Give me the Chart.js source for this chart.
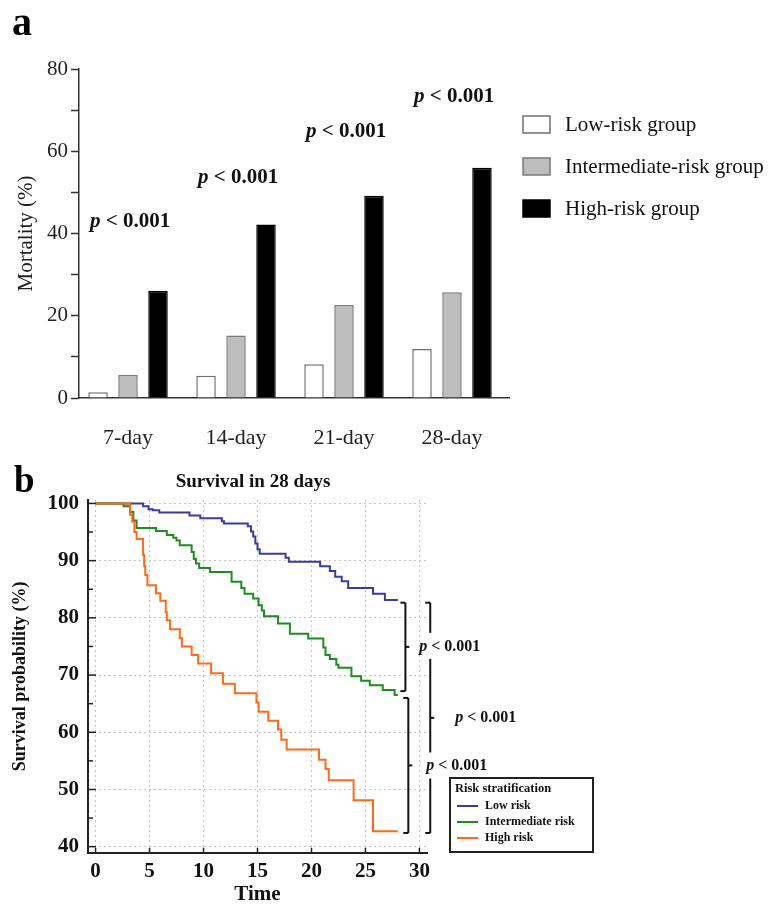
<!DOCTYPE html>
<html>
<head>
<meta charset="utf-8">
<title>Mortality and survival by risk group</title>
<script src="https://cdn.jsdelivr.net/npm/chart.js@4.4.1/dist/chart.umd.min.js"></script>
<style>
  body { margin: 0; background: #fff; }
  canvas { position: absolute; left: 0; }
</style>
</head>
<body>
<canvas id="chartMortality" width="772" height="455" style="top:0"></canvas>
<canvas id="chartSurvival" width="772" height="457" style="top:455px"></canvas>
<script>
// ---- panel a : mortality (%) per follow-up period ----
const periods = ['7-day', '14-day', '21-day', '28-day'];
const groupNames = ['Low-risk group', 'Intermediate-risk group', 'High-risk group'];
const lowMortality = [1.4, 5.4, 8.2, 11.9];
const intermediateMortality = [5.6, 15.2, 22.6, 25.7];
const highMortality = [26.1, 42.2, 49.2, 56.0];
const mortalityTicks = [0, 20, 40, 60, 80];
const pLabel = 'p < 0.001';

// ---- panel b : Kaplan-Meier survival in 28 days ----
const riskNames = ['Low risk', 'Intermediate risk', 'High risk'];
const lowTime = [0, 4.4, 4.9, 5.3, 5.9, 8.7, 9.7, 11.7, 11.9, 14.1, 14.4, 14.6, 14.8, 15.0, 15.2, 17.6, 17.9, 20.8, 21.7, 22.2, 22.8, 23.4, 25.7, 26.8, 28.0];
const lowSurv = [100, 99.5, 99.0, 98.8, 98.4, 97.9, 97.4, 96.9, 96.5, 96.0, 95.1, 94.2, 93.0, 92.0, 91.2, 90.5, 89.8, 89.0, 88.2, 87.2, 86.4, 85.2, 84.2, 83.1, 83.1];
const midTime = [0, 2.6, 3.2, 3.5, 3.8, 5.6, 6.6, 7.2, 7.5, 7.8, 8.9, 9.1, 9.3, 9.6, 10.6, 12.6, 13.5, 13.8, 14.6, 15.1, 15.4, 15.6, 16.9, 18.0, 19.7, 21.1, 21.3, 21.7, 22.3, 22.5, 23.7, 24.6, 25.4, 26.6, 27.7, 28.0];
const midSurv = [100, 99.5, 98.5, 97.0, 95.7, 95.2, 94.5, 94.0, 93.5, 92.7, 91.5, 90.3, 89.5, 88.7, 88.0, 86.3, 85.2, 84.2, 83.4, 82.2, 81.3, 80.3, 79.0, 77.2, 76.4, 74.8, 73.5, 72.8, 71.8, 71.3, 69.8, 69.0, 68.2, 67.4, 66.5, 66.5];
const highTime = [0, 3.2, 3.4, 3.6, 3.8, 4.4, 4.5, 4.6, 4.8, 5.6, 6.0, 6.5, 6.6, 6.9, 7.8, 8.0, 8.9, 9.5, 10.7, 11.8, 12.9, 14.9, 15.1, 16.0, 16.9, 17.2, 17.7, 20.7, 21.3, 21.6, 23.9, 25.7, 28.0];
const highSurv = [100, 98.0, 96.8, 95.0, 93.8, 91.0, 89.0, 87.5, 85.7, 84.3, 83.0, 81.0, 79.6, 78.0, 76.5, 75.0, 73.5, 72.0, 70.3, 68.5, 66.8, 65.2, 63.6, 62.0, 60.5, 58.7, 57.0, 55.2, 53.6, 51.6, 48.1, 42.7, 42.7];
const timeTicks = [0, 5, 10, 15, 20, 25, 30];
const survivalTicks = [40, 50, 60, 70, 80, 90, 100];

const SERIF = "'Liberation Serif', 'Times New Roman', serif";

// "p < 0.001" with an italic p
function drawPValue(ctx, x, y, size) {
  ctx.save();
  ctx.fillStyle = '#111';
  ctx.textAlign = 'left';
  ctx.textBaseline = 'middle';
  ctx.font = 'italic bold ' + size + 'px ' + SERIF;
  ctx.fillText(pLabel.slice(0, 1), x, y);
  const w = ctx.measureText(pLabel.slice(0, 1)).width;
  ctx.font = 'bold ' + size + 'px ' + SERIF;
  ctx.fillText(pLabel.slice(1), x + w, y);
  ctx.restore();
}

function line(ctx, x1, y1, x2, y2) {
  ctx.beginPath();
  ctx.moveTo(x1, y1);
  ctx.lineTo(x2, y2);
  ctx.stroke();
}

// panel letter, p values and legend for panel a
const mortalityNotes = {
  id: 'mortalityNotes',
  afterDraw(chart) {
    const { ctx, scales: { x, y } } = chart;
    ctx.save();
    ctx.fillStyle = '#000';
    ctx.font = 'bold 40px ' + SERIF;
    ctx.textBaseline = 'alphabetic';
    ctx.fillText('a', 12, 35);
    ctx.restore();

    // p labels sit above each group (value units)
    const pHeights = [43.0, 53.7, 64.8, 73.2];
    periods.forEach((p, i) => {
      drawPValue(ctx, x.getPixelForValue(i + 1) - 38, y.getPixelForValue(pHeights[i]), 21);
    });

    chart.data.datasets.forEach((ds, i) => {
      const top = 116 + i * 42;
      ctx.save();
      ctx.fillStyle = ds.backgroundColor;
      ctx.strokeStyle = ds.borderColor;
      ctx.lineWidth = 1.5;
      ctx.fillRect(523, top, 27, 17);
      ctx.strokeRect(523, top, 27, 17);
      ctx.fillStyle = '#111';
      ctx.font = '21px ' + SERIF;
      ctx.textBaseline = 'middle';
      ctx.fillText(ds.label, 565, top + 9);
      ctx.restore();
    });
  }
};

new Chart(document.getElementById('chartMortality'), {
  type: 'bar',
  data: {
    datasets: [
      { label: groupNames[0], data: periods.map((p, i) => ({ x: i + 1, y: lowMortality[i] })),
        backgroundColor: '#ffffff', borderColor: '#707070', borderWidth: 1.5 },
      { label: groupNames[1], data: periods.map((p, i) => ({ x: i + 1, y: intermediateMortality[i] })),
        backgroundColor: '#bdbdbd', borderColor: '#7a7a7a', borderWidth: 1.5 },
      { label: groupNames[2], data: periods.map((p, i) => ({ x: i + 1, y: highMortality[i] })),
        backgroundColor: '#000000', borderColor: '#000000', borderWidth: 1.5 }
    ]
  },
  options: {
    responsive: false,
    animation: false,
    layout: { padding: { top: 69, right: 263, left: 0, bottom: 0 } },
    datasets: { bar: { categoryPercentage: 0.833, barPercentage: 0.65 } },
    plugins: { legend: { display: false }, tooltip: { enabled: false } },
    scales: {
      x: {
        type: 'linear', min: 0.546, max: 4.528, offset: false,
        afterBuildTicks: s => { s.ticks = periods.map((p, i) => ({ value: i + 1 })); },
        afterFit: s => { s.height = 57; },
        grid: { display: false, drawTicks: false, offset: false },
        border: { display: true, color: '#333', width: 1.5 },
        ticks: { padding: 27, color: '#222', font: { family: SERIF, size: 22 }, maxRotation: 0, autoSkip: false,
                 callback: v => periods[v - 1] || '' }
      },
      y: {
        min: 0, max: 80,
        afterBuildTicks: s => { s.ticks = [0, 10, 20, 30, 40, 50, 60, 70, 80].map(v => ({ value: v })); },
        afterFit: s => { s.width = 79; },
        grid: { drawOnChartArea: false, drawTicks: true, tickLength: 8, tickColor: '#333', tickWidth: 1.5 },
        border: { display: true, color: '#333', width: 1.5 },
        ticks: { padding: 3, color: '#222', font: { family: SERIF, size: 21 },
                 callback: v => mortalityTicks.includes(v) ? String(v) : '' },
        title: { display: true, text: 'Mortality (%)', color: '#222', font: { family: SERIF, size: 21 },
                 padding: { top: 14, bottom: 0 } }
      }
    }
  },
  plugins: [mortalityNotes]
});

// panel letter, title, inward ticks, brackets and legend for panel b
const survivalNotes = {
  id: 'survivalNotes',
  afterDraw(chart) {
    const { ctx, chartArea, scales: { x, y } } = chart;
    ctx.save();
    ctx.fillStyle = '#000';
    ctx.font = 'bold 37px ' + SERIF;
    ctx.fillText('b', 14, 37);
    ctx.font = 'bold 19px ' + SERIF;
    ctx.textAlign = 'center';
    ctx.textBaseline = 'middle';
    ctx.fillStyle = '#111';
    ctx.fillText('Survival in 28 days', 253, 27);
    ctx.restore();

    // inward tick marks
    ctx.save();
    ctx.strokeStyle = '#222';
    ctx.lineWidth = 1.5;
    for (let v = 40; v <= 100; v += 5) {
      const py = y.getPixelForValue(v);
      line(ctx, chartArea.left, py, chartArea.left + (v % 10 === 0 ? 8 : 5), py);
    }
    timeTicks.forEach(v => {
      const px = x.getPixelForValue(v);
      line(ctx, px, chartArea.bottom, px, chartArea.bottom - 5);
    });
    ctx.restore();

    // brackets between the end points of the curves
    const endLow = lowSurv[lowSurv.length - 1];
    const endMid = midSurv[midSurv.length - 1];
    const endHigh = highSurv[highSurv.length - 1];
    const b1 = { x: 28.7, top: endLow - 0.45, bottom: endMid + 0.7 };
    const b2 = { x: 28.97, top: endMid - 0.5, bottom: endHigh - 0.3 };
    const b3 = { x: 31.0, top: endLow - 0.45, bottom: endHigh - 0.3 };
    const mid = b => (y.getPixelForValue(b.top) + y.getPixelForValue(b.bottom)) / 2;
    const outerX = x.getPixelForValue(b3.x);

    function bracket(b, gaps) {
      const px = x.getPixelForValue(b.x);
      const yt = y.getPixelForValue(b.top);
      const yb = y.getPixelForValue(b.bottom);
      line(ctx, px - 5, yt, px, yt);
      line(ctx, px - 5, yb, px, yb);
      let start = yt;
      gaps.forEach(g => { line(ctx, px, start, px, g[0]); start = g[1]; });
      line(ctx, px, start, px, yb);
      line(ctx, px, (yt + yb) / 2, px + 4, (yt + yb) / 2);
    }

    ctx.save();
    ctx.strokeStyle = '#111';
    ctx.lineWidth = 2;
    bracket(b1, []);
    bracket(b2, []);
    bracket(b3, [[mid(b1) - 14, mid(b1) + 12], [mid(b2) - 13, mid(b2) + 13]]);
    ctx.restore();

    drawPValue(ctx, outerX - 11, mid(b1), 16);
    drawPValue(ctx, outerX + 25, mid(b3), 16);
    drawPValue(ctx, outerX - 4, mid(b2), 16);

    // legend box
    ctx.save();
    ctx.fillStyle = '#fff';
    ctx.fillRect(450, 323, 143, 74);
    ctx.strokeStyle = '#222';
    ctx.lineWidth = 2;
    ctx.strokeRect(450, 323, 143, 74);
    ctx.fillStyle = '#111';
    ctx.textBaseline = 'middle';
    ctx.font = 'bold 12.5px ' + SERIF;
    ctx.fillText('Risk stratification', 455, 334);
    chart.data.datasets.forEach((ds, i) => {
      const ly = 351 + i * 16;
      ctx.strokeStyle = ds.borderColor;
      ctx.lineWidth = 2;
      line(ctx, 457, ly, 478, ly);
      ctx.fillStyle = '#111';
      ctx.font = 'bold 12px ' + SERIF;
      ctx.fillText(ds.label, 485, ly);
    });
    ctx.restore();
  }
};

const kmPoints = (t, s) => t.map((v, i) => ({ x: v, y: s[i] }));
const gridStyle = { color: '#c4c4c4', lineWidth: 1, drawTicks: false };

new Chart(document.getElementById('chartSurvival'), {
  type: 'line',
  data: {
    datasets: [
      { label: riskNames[0], data: kmPoints(lowTime, lowSurv), borderColor: '#3b3b9e', order: 2 },
      { label: riskNames[1], data: kmPoints(midTime, midSurv), borderColor: '#1f8c1f', order: 1 },
      { label: riskNames[2], data: kmPoints(highTime, highSurv), borderColor: '#ff6a1a', order: 0 }
    ]
  },
  options: {
    responsive: false,
    animation: false,
    layout: { padding: { top: 45, right: 345, left: 0, bottom: 0 } },
    datasets: { line: { stepped: 'before', borderWidth: 2, pointRadius: 0, fill: false } },
    plugins: { legend: { display: false }, tooltip: { enabled: false } },
    scales: {
      x: {
        type: 'linear', min: -0.7, max: 30.7,
        afterBuildTicks: s => { s.ticks = timeTicks.map(v => ({ value: v })); },
        afterFit: s => { s.height = 59.3; },
        grid: gridStyle,
        border: { display: true, color: '#222', width: 2, dash: [2, 3] },
        ticks: { padding: 6, color: '#111', font: { family: SERIF, size: 21, weight: 'bold' }, maxRotation: 0, autoSkip: false },
        title: { display: true, text: 'Time', color: '#111', font: { family: SERIF, size: 21, weight: 'bold' },
                 padding: { top: 0, bottom: 5 } }
      },
      y: {
        min: 38.95, max: 100.6,
        afterBuildTicks: s => { s.ticks = survivalTicks.map(v => ({ value: v })); },
        afterFit: s => { s.width = 88; },
        grid: gridStyle,
        border: { display: true, color: '#222', width: 2, dash: [2, 3] },
        ticks: { padding: 9, color: '#111', font: { family: SERIF, size: 21, weight: 'bold' } },
        title: { display: true, text: 'Survival probability (%)', color: '#111',
                 font: { family: SERIF, size: 18, weight: 'bold' }, padding: { top: 10, bottom: 0 } }
      }
    }
  },
  plugins: [survivalNotes]
});
</script>
</body>
</html>
